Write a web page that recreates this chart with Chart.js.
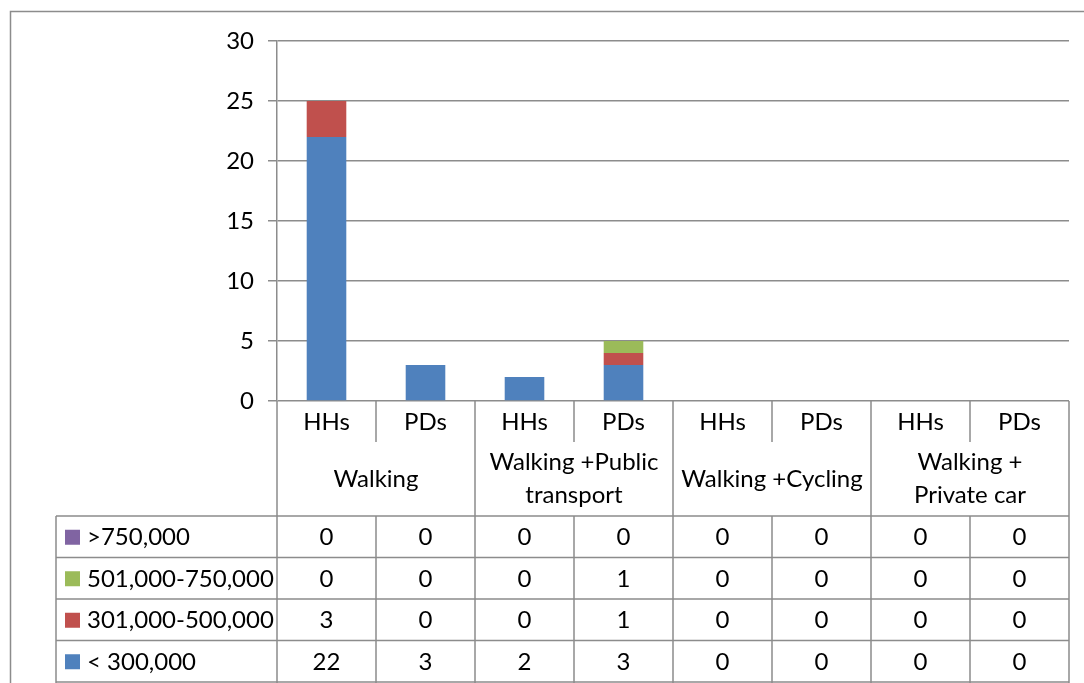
<!DOCTYPE html>
<html>
<head>
<meta charset="utf-8">
<script src="https://cdn.jsdelivr.net/npm/chart.js@4/dist/chart.umd.min.js"></script>
<style>
  html, body { margin: 0; padding: 0; background: #fff; }
  canvas { display: block; }
</style>
</head>
<body>
<canvas id="mode-chart" width="1084" height="683"></canvas>
<script>
// sub categories along the x axis, and the groups they belong to (two per group)
const subCategories = ["HHs", "PDs", "HHs", "PDs", "HHs", "PDs", "HHs", "PDs"];
const groupLabels = [
  ["Walking"],
  ["Walking +Public", "transport"],
  ["Walking +Cycling"],
  ["Walking +", "Private car"]
];

// income bands (stacked bottom to top)
const seriesNames = ["< 300,000", "301,000-500,000", "501,000-750,000", ">750,000"];
const below300k = [22, 3, 2, 3, 0, 0, 0, 0];
const from301kTo500k = [3, 0, 0, 1, 0, 0, 0, 0];
const from501kTo750k = [0, 0, 0, 1, 0, 0, 0, 0];
const above750k = [0, 0, 0, 0, 0, 0, 0, 0];
const seriesColors = ["#4F81BD", "#C0504D", "#9BBB59", "#8064A2"];

const yMin = 0;
const yMax = 30;
const yStep = 5;

const FONT = "Lato, 'Open Sans', sans-serif";
const FONT_SIZE = 24;
const LINE = "#8c8c8c";

const seriesValues = [below300k, from301kTo500k, from501kTo750k, above750k];

// draws the data table under the plot (x labels, groups, legend keys, values)
const dataTable = {
  id: "dataTable",
  afterDraw(chart) {
    const ctx = chart.ctx;
    const area = chart.chartArea;
    const n = subCategories.length;
    const w = (area.right - area.left) / n;
    const edge = i => area.left + i * w;
    const top = area.bottom;
    const subBottom = top + 41;
    const groupBottom = top + 115;
    const rowH = 41.5;
    const legendLeft = 56;
    const bottom = groupBottom + rowH * seriesNames.length + 2;

    ctx.save();
    ctx.strokeStyle = LINE;
    ctx.lineWidth = 1.5;
    ctx.beginPath();
    // vertical lines
    for (let i = 0; i <= n; i++) {
      const x = edge(i);
      ctx.moveTo(x, top);
      ctx.lineTo(x, i % 2 === 0 ? bottom : subBottom);
      if (i % 2 === 1) {
        ctx.moveTo(x, groupBottom);
        ctx.lineTo(x, bottom);
      }
    }
    ctx.moveTo(legendLeft, groupBottom);
    ctx.lineTo(legendLeft, bottom);
    // horizontal lines
    for (let r = 0; r <= seriesNames.length; r++) {
      const y = groupBottom + r * rowH;
      ctx.moveTo(legendLeft, y);
      ctx.lineTo(area.right, y);
    }
    ctx.stroke();

    ctx.fillStyle = "#000";
    ctx.font = FONT_SIZE + "px " + FONT;
    ctx.textAlign = "center";
    ctx.textBaseline = "middle";
    subCategories.forEach((label, i) => {
      ctx.fillText(label, edge(i) + w / 2, top + 21);
    });
    groupLabels.forEach((lines, g) => {
      const cx = edge(g * 2 + 1);
      const cy = (subBottom + groupBottom) / 2;
      const lh = 33;
      lines.forEach((t, k) => {
        ctx.fillText(t, cx, cy + (k - (lines.length - 1) / 2) * lh);
      });
    });

    // rows listed from the top band down
    for (let r = 0; r < seriesNames.length; r++) {
      const s = seriesNames.length - 1 - r;
      const cy = groupBottom + r * rowH + rowH / 2;
      ctx.fillStyle = seriesColors[s];
      ctx.fillRect(65, cy - 7, 15, 15);
      ctx.fillStyle = "#000";
      ctx.textAlign = "left";
      ctx.fillText(seriesNames[s], 87, cy + 1);
      ctx.textAlign = "center";
      seriesValues[s].forEach((v, i) => {
        ctx.fillText(String(v), edge(i) + w / 2, cy + 1);
      });
    }

    // outer chart frame
    ctx.beginPath();
    ctx.moveTo(10.5, chart.height + 5);
    ctx.lineTo(10.5, 11.5);
    ctx.lineTo(chart.width + 5, 11.5);
    ctx.stroke();
    ctx.restore();
  }
};

new Chart("mode-chart", {
  type: "bar",
  data: {
    labels: subCategories,
    datasets: seriesNames.map((name, s) => ({
      label: name,
      data: seriesValues[s],
      backgroundColor: seriesColors[s],
      borderWidth: 0
    }))
  },
  options: {
    responsive: false,
    animation: false,
    datasets: {
      bar: {
        categoryPercentage: 1,
        barPercentage: 0.4
      }
    },
    layout: {
      padding: { top: 41, right: 15, bottom: 282, left: 0 }
    },
    plugins: {
      legend: { display: false },
      tooltip: { enabled: false }
    },
    scales: {
      x: {
        stacked: true,
        display: false
      },
      y: {
        stacked: true,
        min: yMin,
        max: yMax,
        afterFit(scale) {
          scale.width = 277;
        },
        ticks: {
          stepSize: yStep,
          padding: 14,
          color: "#000",
          font: { family: FONT, size: FONT_SIZE }
        },
        grid: {
          color: LINE,
          lineWidth: 1.5,
          tickLength: 9
        },
        border: {
          color: LINE,
          width: 1.5
        }
      }
    }
  },
  plugins: [dataTable]
});
</script>
</body>
</html>
